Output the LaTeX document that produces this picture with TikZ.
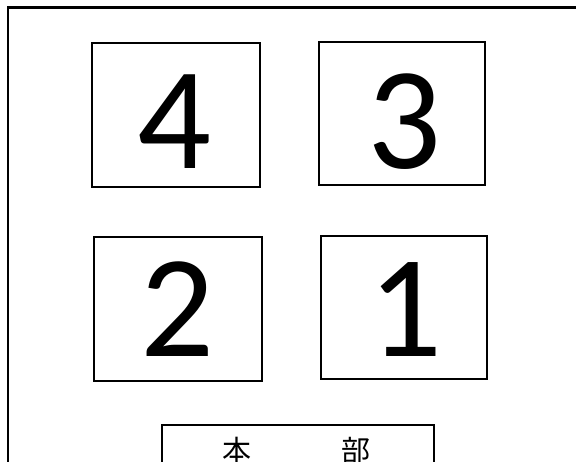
\documentclass[tikz,border=0pt]{standalone}
\usepackage{fontspec}
\newfontfamily\calib{Carlito}
\newfontfamily\cjk{Noto Sans CJK JP}
\begin{document}
\begin{tikzpicture}[x=1pt,y=-1pt,
  framebox/.style={draw=black,line width=2pt,fill=none,rectangle,inner sep=0pt},
  digit/.style={anchor=base,inner sep=0pt,font=\calib\fontsize{146}{146}\selectfont},
  hq/.style={anchor=base,inner sep=0pt,font=\cjk\fontsize{29}{29}\selectfont}]
\useasboundingbox (0,0) rectangle (576,462);
\clip (0,0) rectangle (576,462);
% outer frame
\draw[line width=2.5pt] (8,480) -- (8,7.5) -- (590,7.5);
% boxes
\node[framebox,minimum width=168pt,minimum height=144pt] (b4) at (176,115) {};
\node[framebox,minimum width=166pt,minimum height=143pt] (b3) at (402,113.5) {};
\node[framebox,minimum width=168pt,minimum height=144pt] (b2) at (178,309) {};
\node[framebox,minimum width=166pt,minimum height=143pt] (b1) at (404,307.5) {};
\node[digit] (d4) at (174,169) {4};
\node[digit] (d3) at (404,169) {3};
\node[digit] (d2) at (177,357) {2};
\node[digit] (d1) at (405,357) {1};
% bottom box
\draw[line width=2pt] (162,480) -- (162,425) -- (434,425) -- (434,480);
\node[hq] (hon) at (237,461) {本};
\node[hq] (bu) at (356,461) {部};
\end{tikzpicture}
\end{document}
